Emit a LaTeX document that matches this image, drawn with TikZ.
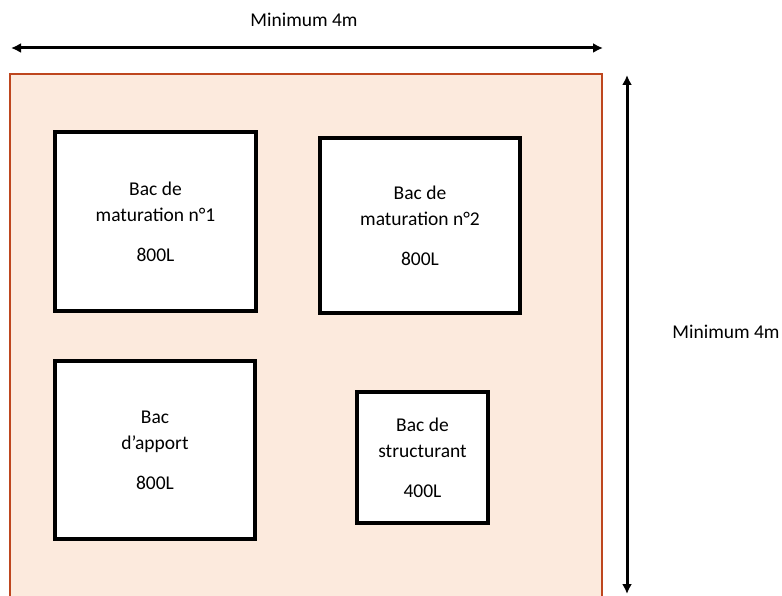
\documentclass[tikz,border=0pt]{standalone}
\usepackage{fontspec}
\setmainfont{Carlito}
\usetikzlibrary{arrows.meta}
\usepackage{xcolor}
\definecolor{zonefill}{RGB}{252,234,221}
\definecolor{zoneborder}{RGB}{190,70,30}
\tikzset{
  >=latex,
  zone/.style={draw=zoneborder,fill=zonefill,line width=2.5pt,inner sep=0,outer sep=0},
  bac/.style={draw=black,fill=white,line width=3.5pt,inner sep=0,outer sep=0,
    align=center,font=\fontsize{19.5}{26}\selectfont},
  label/.style={font=\fontsize{19.5}{24}\selectfont},
  dim arrow/.style={{Latex[length=10pt,width=10pt]}-{Latex[length=10pt,width=10pt]},line width=3pt,black}
}

\begin{document}
\begin{tikzpicture}[x=1pt,y=-1pt]
    \useasboundingbox (0,0) rectangle (782,596);
    % zone de compostage
    \node[zone,minimum width=592,minimum height=523] (zone) at (306,335.5) {};
    % bacs
    \node[bac,minimum width=201,minimum height=179] (mat1) at (155.5,221.5) {Bac de\\maturation n°1\\[14pt]800L};
    \node[bac,minimum width=200,minimum height=175] (mat2) at (420,225.5) {Bac de\\maturation n°2\\[14pt]800L};
    \node[bac,minimum width=200,minimum height=178] (apport) at (155,450) {Bac\\d’apport\\[14pt]800L};
    \node[bac,minimum width=131,minimum height=131] (struct) at (422.5,457.5) {Bac de\\structurant\\[14pt]400L};
    % cotes
    \coordinate (hl) at (11,48);
    \coordinate (hr) at (603,48);
    \coordinate (vt) at (627,75);
    \coordinate (vb) at (627,594);
    \draw[dim arrow] (hl) -- (hr);
    \draw[dim arrow] (vt) -- (vb);
    \node[label] (largeur) at (304,20) {Minimum 4m};
    \node[label] (longueur) at (726,332) {Minimum 4m};
\end{tikzpicture}
\end{document}
